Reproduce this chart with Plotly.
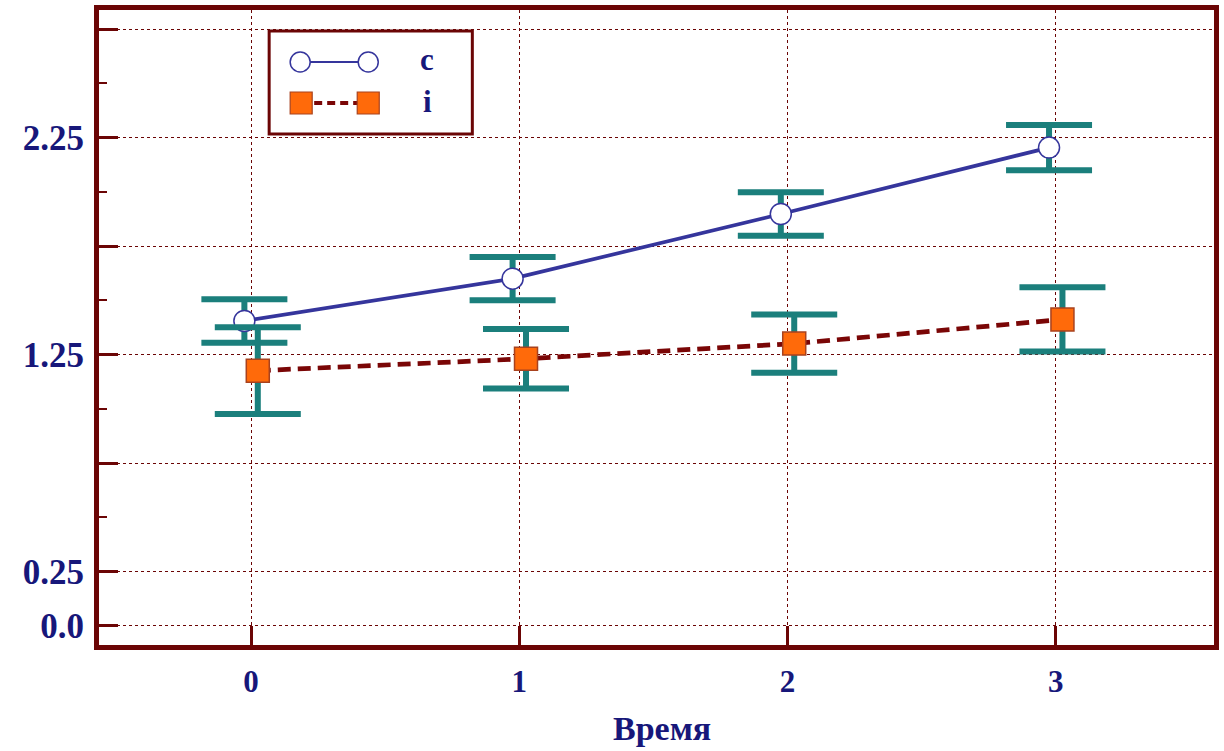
import plotly.graph_objects as go

# Data
time = [0, 1, 2, 3]
c_mean = [1.405, 1.600, 1.898, 2.204]
c_err = [0.100, 0.100, 0.100, 0.104]
i_mean = [1.176, 1.231, 1.301, 1.412]
i_err = [0.200, 0.137, 0.134, 0.148]

y_tickvals = [0.0, 0.25, 0.75, 1.25, 1.75, 2.25, 2.75]
y_ticktext = ["0.0", "0.25", "", "1.25", "", "2.25", ""]
x_tickvals = [0, 1, 2, 3]
x_ticktext = ["0", "1", "2", "3"]

DODGE = 0.025  # horizontal shift so the two series don't overlap

FRAME = "#6b0505"
NAVY = "#17177a"
TEAL = "#1b7f7c"
C_LINE = "#35359c"
I_LINE = "#7a0606"
ORANGE = "#ff6a0a"
FONT = "Liberation Serif"

W, H = 1224, 751
L, R, T, B = 99, 5, 10, 106

fig = go.Figure()

err_style = dict(type="data", symmetric=True, color=TEAL, thickness=6, width=43)

fig.add_trace(go.Scatter(
    x=[t - DODGE for t in time], y=c_mean, name="c", mode="lines+markers",
    line=dict(color=C_LINE, width=3.7),
    marker=dict(symbol="circle", size=21, color="white", line=dict(color=C_LINE, width=1.5)),
    error_y=dict(array=c_err, **err_style),
))
fig.add_trace(go.Scatter(
    x=[t + DODGE for t in time], y=i_mean, name="i", mode="lines+markers",
    line=dict(color=I_LINE, width=4.7, dash="13px,7px"),
    marker=dict(symbol="square", size=23, color=ORANGE, line=dict(color="#a8421e", width=1.5)),
    error_y=dict(array=i_err, **err_style),
))


# pixel -> paper helpers for the hand-drawn legend
def px(xp):
    return (xp - 99) / (1213 - 99)


def py(yp):
    return (H - B - yp) / (H - T - B)


# Legend box drawn by hand: two sample markers joined by a line, then the label
shapes = [dict(type="rect", xref="paper", yref="paper",
               x0=px(269), x1=px(472), y0=py(134), y1=py(31),
               line=dict(color=FRAME, width=3), fillcolor="white", layer="above")]
annotations = []
rows = [("c", 62, "circle"), ("i", 103, "square")]
for label, yy, kind in rows:
    if kind == "circle":
        shapes.append(dict(type="line", xref="paper", yref="paper",
                           x0=px(300), x1=px(368), y0=py(yy), y1=py(yy),
                           line=dict(color=C_LINE, width=2), layer="above"))
        for cx in (300, 368):
            shapes.append(dict(type="circle", xref="paper", yref="paper",
                               x0=px(cx - 10), x1=px(cx + 10), y0=py(yy + 10), y1=py(yy - 10),
                               fillcolor="white", line=dict(color=C_LINE, width=1.5), layer="above"))
    else:
        shapes.append(dict(type="line", xref="paper", yref="paper",
                           x0=px(301), x1=px(368), y0=py(yy), y1=py(yy),
                           line=dict(color=I_LINE, width=4, dash="8px,5px"), layer="above"))
        for cx in (301, 368):
            shapes.append(dict(type="rect", xref="paper", yref="paper",
                               x0=px(cx - 11), x1=px(cx + 11), y0=py(yy + 11), y1=py(yy - 11),
                               fillcolor=ORANGE, line=dict(color="#a8421e", width=1.2), layer="above"))
    annotations.append(dict(text=label, xref="paper", yref="paper", x=px(427), y=py(yy - 2),
                            showarrow=False, xanchor="center", yanchor="middle",
                            font=dict(family=FONT, size=31, color=NAVY, weight="bold")))

annotations.append(dict(text="Время", xref="paper", yref="paper", x=px(661), y=py(728),
                        showarrow=False, xanchor="center", yanchor="middle",
                        font=dict(family=FONT, size=34, color=NAVY, weight="bold")))

grid = dict(showgrid=True, gridcolor=FRAME, gridwidth=1, griddash="dot")
frame = dict(showline=True, linecolor=FRAME, linewidth=5, mirror=True, zeroline=False)

fig.update_layout(
    width=W, height=H,
    margin=dict(l=L, r=R, t=T, b=B),
    paper_bgcolor="white", plot_bgcolor="white",
    showlegend=False,
    shapes=shapes, annotations=annotations,
    xaxis=dict(range=[-0.567, 3.590], tickvals=x_tickvals, ticktext=x_ticktext,
               ticks="inside", ticklen=19, tickwidth=3, tickcolor=FRAME,
               ticklabelstandoff=5,
               tickfont=dict(family=FONT, size=31, color=NAVY, weight="bold"),
               **grid, **frame),
    yaxis=dict(range=[-0.088, 2.838], tickvals=y_tickvals, ticktext=y_ticktext,
               ticks="inside", ticklen=19, tickwidth=3, tickcolor=FRAME,
               ticklabelstandoff=3,
               tickfont=dict(family=FONT, size=35, color=NAVY, weight="bold"),
               minor=dict(tick0=0, dtick=0.5, ticks="inside", ticklen=8, tickwidth=2,
                          tickcolor=FRAME, showgrid=False),
               **grid, **frame),
)

fig.write_html("out.html")
